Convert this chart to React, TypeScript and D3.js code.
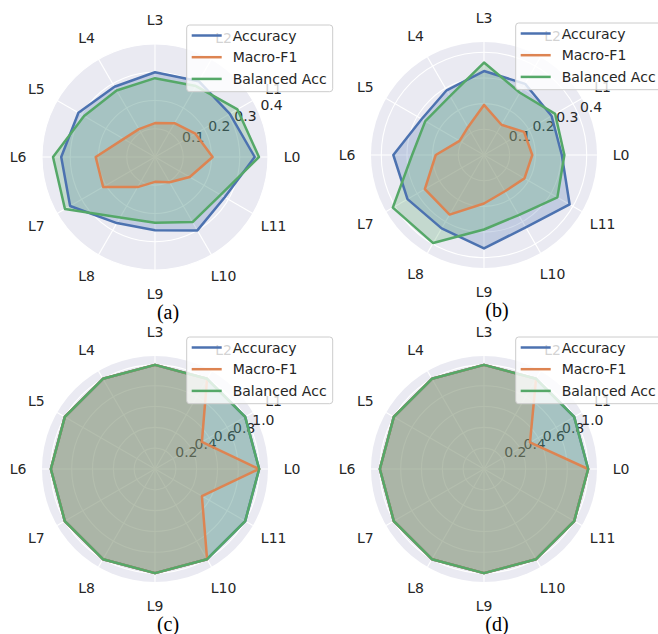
import React from 'react';
import * as d3 from 'd3';

// axis categories (one spoke per layer)
const layers = ['L0', 'L1', 'L2', 'L3', 'L4', 'L5', 'L6', 'L7', 'L8', 'L9', 'L10', 'L11'];
const seriesNames = ['Accuracy', 'Macro-F1', 'Balanced Acc'];
const seriesColors = ['#4C72B0', '#DD8452', '#55A868'];
const captions = ['(a)', '(b)', '(c)', '(d)'];

// panel (a)
const accuracyA = [0.353, 0.306, 0.31, 0.3, 0.287, 0.313, 0.332, 0.347, 0.27, 0.259, 0.3, 0.285];
const macroF1A = [0.204, 0.165, 0.138, 0.12, 0.114, 0.128, 0.21, 0.212, 0.123, 0.088, 0.103, 0.142];
const balancedA = [0.368, 0.337, 0.29, 0.279, 0.272, 0.29, 0.361, 0.368, 0.247, 0.233, 0.266, 0.268];

// panel (b)
const accuracyB = [0.303, 0.304, 0.32, 0.327, 0.291, 0.28, 0.353, 0.344, 0.33, 0.364, 0.325, 0.385];
const macroF1B = [0.188, 0.18, 0.136, 0.195, 0.125, 0.11, 0.188, 0.266, 0.268, 0.189, 0.163, 0.182];
const balancedB = [0.313, 0.32, 0.28, 0.36, 0.265, 0.264, 0.28, 0.41, 0.396, 0.29, 0.27, 0.33];

// panel (c)
const accuracyC = [1, 1, 1, 1, 1, 1, 1, 1, 1, 1, 1, 1];
const macroF1C = [1, 0.52, 1, 1, 1, 1, 1, 1, 1, 1, 1, 0.52];
const balancedC = [1, 1, 1, 1, 1, 1, 1, 1, 1, 1, 1, 1];

// panel (d)
const accuracyD = [1, 1, 1, 1, 1, 1, 1, 1, 1, 1, 1, 1];
const macroF1D = [1, 0.51, 1, 1, 1, 1, 1, 1, 1, 1, 1, 1];
const balancedD = [1, 1, 1, 1, 1, 1, 1, 1, 1, 1, 1, 1];

const ticksSmall = [0.1, 0.2, 0.3, 0.4];
const ticksLarge = [0.2, 0.4, 0.6, 0.8, 1.0];

const panels = [
  { cx: 155, cy: 157, rMax: 0.4, ticks: ticksSmall, series: [accuracyA, macroF1A, balancedA] },
  { cx: 484, cy: 155, rMax: 0.44, ticks: ticksSmall, series: [accuracyB, macroF1B, balancedB] },
  { cx: 155, cy: 469, rMax: 1.085, ticks: ticksLarge, series: [accuracyC, macroF1C, balancedC] },
  { cx: 484, cy: 469, rMax: 1.085, ticks: ticksLarge, series: [accuracyD, macroF1D, balancedD] },
];

const W = 658;
const H = 634;
const R = 113;
const FONT = 'DejaVu Sans, sans-serif';
const TEXT = '#262626';

// matplotlib angle (0 = right, counter-clockwise) -> d3 radial angle (0 = up, clockwise)
const toD3 = (theta: number) => Math.PI / 2 - theta;

function Radar({ p, idx }: { p: typeof panels[0]; idx: number }) {
  const r = d3.scaleLinear().domain([0, p.rMax]).range([0, R]);
  const theta = d3.scalePoint<string>().domain([...layers, '']).range([0, 2 * Math.PI]);
  const fmt = d3.format('.1f');
  const line = d3
    .lineRadial<number>()
    .angle((_, i) => toD3(theta(layers[i]) as number))
    .radius(d => r(d))
    .curve(d3.curveLinearClosed);

  const labelAngle = (22.5 * Math.PI) / 180;
  const lx = p.cx + 31.7;
  const ly = p.cy - 132;

  return (
    <g>
      <circle cx={p.cx} cy={p.cy} r={R} fill="#EAEAF2" />
      <g transform={`translate(${p.cx},${p.cy})`}>
        {p.ticks.map(t => (
          <circle key={t} r={r(t)} fill="none" stroke="#fff" strokeWidth={1.1} />
        ))}
        {layers.map(l => {
          const a = theta(l) as number;
          return (
            <line key={l} x1={0} y1={0} x2={R * Math.cos(a)} y2={-R * Math.sin(a)} stroke="#fff" strokeWidth={1.1} />
          );
        })}
        {p.ticks.map(t => (
          <text
            key={'t' + t}
            x={r(t) * Math.cos(labelAngle) + 1}
            y={-r(t) * Math.sin(labelAngle) - 4}
            fontSize={14}
            fontFamily={FONT}
            fill={TEXT}
          >
            {fmt(t)}
          </text>
        ))}
        {layers.map(l => {
          const a = theta(l) as number;
          return (
            <text
              key={'l' + l}
              x={137 * Math.cos(a)}
              y={-137 * Math.sin(a)}
              fontSize={14}
              fontFamily={FONT}
              fill={TEXT}
              textAnchor="middle"
              dominantBaseline="central"
            >
              {l}
            </text>
          );
        })}
        {p.series.map((s, i) => (
          <path key={'f' + i} d={line(s) || ''} fill={seriesColors[i]} fillOpacity={0.25} stroke="none" />
        ))}
        {p.series.map((s, i) => (
          <path key={'s' + i} d={line(s) || ''} fill="none" stroke={seriesColors[i]} strokeWidth={2.5} strokeLinejoin="round" />
        ))}
      </g>
      <g>
        <rect x={lx} y={ly} width={146} height={66.7} rx={3} fill="#fff" fillOpacity={0.8} stroke="#cccccc" strokeWidth={1} />
        {seriesNames.map((n, i) => {
          const y = ly + 10.5 + i * 21.7;
          return (
            <g key={n}>
              <line x1={lx + 5} x2={lx + 35} y1={y} y2={y} stroke={seriesColors[i]} strokeWidth={2.5} />
              <text x={lx + 46} y={y} fontSize={14} fontFamily={FONT} fill={TEXT} dominantBaseline="central">
                {n}
              </text>
            </g>
          );
        })}
      </g>
      <text
        x={p.cx + 13}
        y={p.cy + 162}
        fontSize={20}
        fontFamily="Liberation Serif, Times New Roman, serif"
        fill="#000"
        textAnchor="middle"
      >
        {captions[idx]}
      </text>
    </g>
  );
}

export default function App() {
  return (
    <svg
      width={W}
      height={H}
      viewBox={`0 0 ${W} ${H}`}
      style={{ position: 'absolute', left: 0, top: 0, background: '#fff' }}
    >
      {panels.map((p, i) => (
        <Radar key={i} p={p} idx={i} />
      ))}
    </svg>
  );
}
